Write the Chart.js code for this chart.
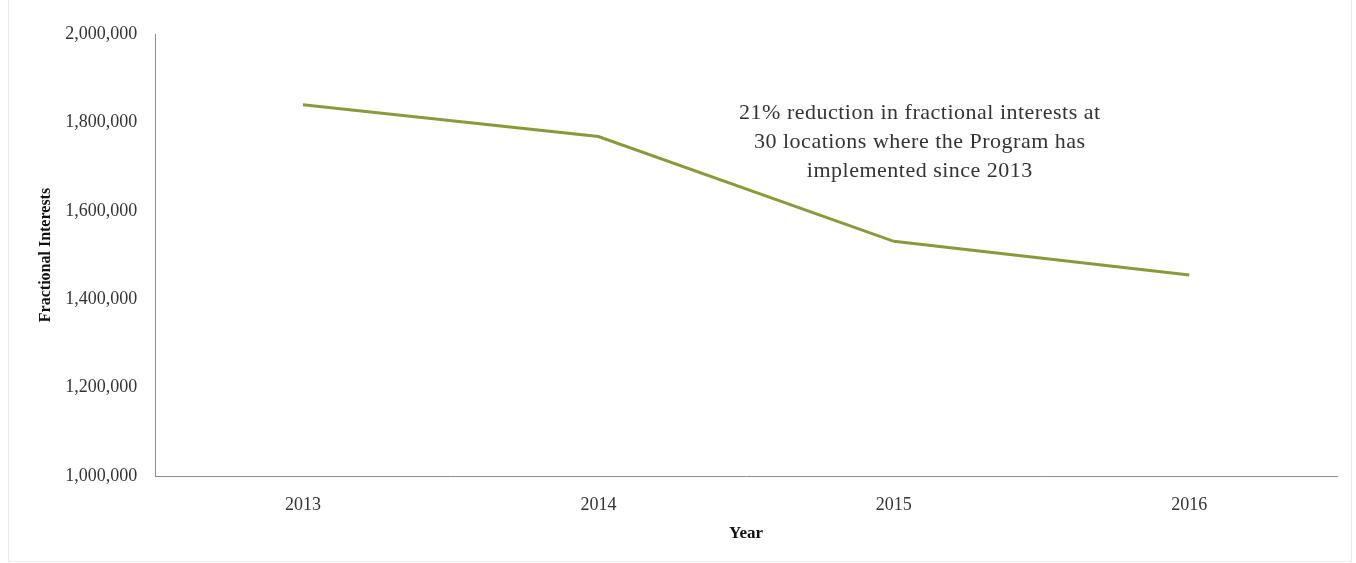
<!DOCTYPE html>
<html>
<head>
<meta charset="utf-8">
<script src="https://cdn.jsdelivr.net/npm/chart.js@4"></script>
<style>
  html, body { margin: 0; padding: 0; background: #fff; }
  #wrap { position: relative; width: 1356px; height: 563px; }
  #frame { position: absolute; left: 8px; top: 0; width: 1344px; height: 562px;
           border-left: 1px solid #ececec; border-right: 1px solid #ececec; border-bottom: 1px solid #f0f0f0; box-sizing: border-box; }
  canvas { position: absolute; left: 0; top: 0; }
</style>
</head>
<body>
<div id="wrap">
  <div id="frame"></div>
  <canvas id="trendChart" width="1356" height="563"></canvas>
</div>
<script>
// fractional interests by year
const years = ['2013', '2014', '2015', '2016'];
const interests = [1840000, 1768000, 1531000, 1455000];
const yTicks = [1000000, 1200000, 1400000, 1600000, 1800000, 2000000];
const noteLines = [
    '21% reduction in fractional interests at',
    '30 locations where the Program has',
    'implemented since 2013'
];

const SERIF = '"Liberation Serif", "DejaVu Serif", serif';

// draws the callout text inside the plot area
const notePlugin = {
    id: 'note',
    afterDatasetsDraw(chart) {
        const { ctx, scales } = chart;
        const cx = scales.x.getPixelForValue(2) + 26;
        const top = scales.y.getPixelForValue(1821000);
        ctx.save();
        ctx.font = '22px ' + SERIF;
        ctx.letterSpacing = '0.5px';
        ctx.fillStyle = '#333';
        ctx.textAlign = 'center';
        ctx.textBaseline = 'middle';
        noteLines.forEach((t, i) => ctx.fillText(t, cx, top + i * 29));
        ctx.restore();
    }
};

new Chart(document.getElementById('trendChart'), {
    type: 'line',
    data: {
        labels: years,
        datasets: [{
            data: interests,
            borderColor: '#8a9a3b',
            borderWidth: 3,
            pointRadius: 0,
            tension: 0,
            fill: false
        }]
    },
    options: {
        responsive: false,
        animation: false,
        layout: { padding: { left: 32, right: 19, top: 34, bottom: 19 } },
        plugins: { legend: { display: false }, tooltip: { enabled: false } },
        scales: {
            x: {
                offset: true,
                grid: { display: false, drawTicks: false },
                border: { color: '#8c8c8c', width: 1 },
                ticks: { color: '#333', font: { family: SERIF, size: 18 }, padding: 18 },
                title: { display: true, text: 'Year', color: '#111', font: { family: SERIF, size: 17, weight: 'bold' }, padding: { top: -10, bottom: 0 } }
            },
            y: {
                min: 1000000,
                max: 2000000,
                afterBuildTicks(axis) { axis.ticks = yTicks.map(v => ({ value: v })); },
                grid: { display: false, drawTicks: false },
                border: { color: '#8c8c8c', width: 1 },
                ticks: {
                    color: '#333',
                    font: { family: SERIF, size: 18 },
                    padding: 18,
                    callback: v => v.toLocaleString('en-US')
                },
                title: { display: true, text: 'Fractional Interests', color: '#111', font: { family: SERIF, size: 16, weight: 'bold' }, padding: { top: 4, bottom: -8 } }
            }
        }
    },
    plugins: [notePlugin]
});
</script>
</body>
</html>
